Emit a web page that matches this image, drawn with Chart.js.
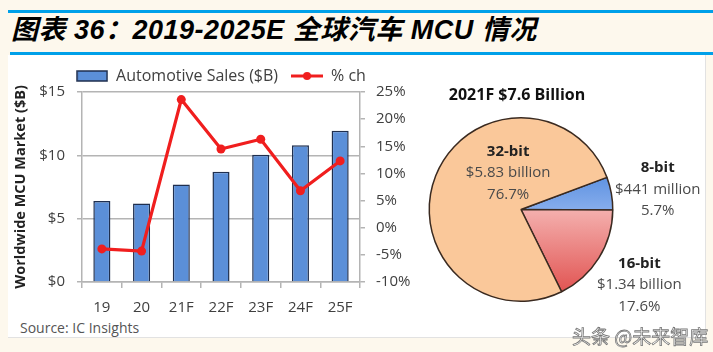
<!DOCTYPE html>
<html>
<head>
<meta charset="utf-8">
<script src="https://cdn.jsdelivr.net/npm/chart.js@4.4.0/dist/chart.umd.min.js"></script>
<style>
  body { margin: 0; width: 713px; height: 352px; overflow: hidden; position: relative; background: #fdf8ed; font-family: "Open Sans", sans-serif; }
  .bar { position: absolute; background: #00a0e9; }
  #title { position: absolute; left: 11px; top: 8px; font: italic bold 27px "Liberation Sans", "Noto Sans CJK SC", sans-serif; letter-spacing: 0.5px; color: #000; white-space: nowrap; }
  #panel { position: absolute; left: 8px; top: 55px; width: 697px; height: 282px; background: #fff; border-right: 1px solid #e2e2e2; border-bottom: 1px solid #e2e2e2; }
  canvas { position: absolute; }
  #source { position: absolute; left: 20px; top: 318px; font-size: 14px; color: #555; }
  #wm { position: absolute; left: 572px; top: 322px; font: 19px "Noto Sans CJK SC", sans-serif; color: #fff; -webkit-text-stroke: 0.8px #777; white-space: nowrap; }
</style>
</head>
<body>
<div class="bar" style="left:8px;top:10px;width:705px;height:3px"></div>
<div id="title">图表 36：2019-2025E 全球汽车 MCU 情况</div>
<div class="bar" style="left:10px;top:52px;width:703px;height:3px"></div>
<div id="panel"></div>
<canvas id="barChart" width="426" height="262" style="left:8px;top:55px"></canvas>
<canvas id="pieChart" width="295" height="282" style="left:410px;top:55px"></canvas>
<div id="source">Source: IC Insights</div>
<div id="wm">头条 @未来智库</div>

<script>
// 数据
const anos = ['19', '20', '21F', '22F', '23F', '24F', '25F'];
const vendas = [6.4, 6.2, 7.7, 8.7, 10.05, 10.8, 11.95];   // $B
const variacao = [-3.9, -4.3, 23.6, 14.5, 16.3, 6.8, 12.3]; // % ch
const ticksEsq = [0, 5, 10, 15];
const ticksDir = [-10, -5, 0, 5, 10, 15, 20, 25];

const fatias = ['8-bit', '16-bit', '32-bit'];
const fatiasValor = [0.441, 1.34, 5.83];
const fatiasTexto = [
    ['8-bit', '$441 million', '5.7%'],
    ['16-bit', '$1.34 billion', '17.6%'],
    ['32-bit', '$5.83 billion', '76.7%']
];
const pizzaTitulo = '2021F $7.6 Billion';

const fonte = '"Open Sans", sans-serif';
const cinza = '#b4b4b4';

// ícones da legenda
function iconeBarra() {
    const c = document.createElement('canvas');
    c.width = 32; c.height = 12;
    const g = c.getContext('2d');
    g.fillStyle = '#5b8fd8';
    g.fillRect(1, 1, 30, 10);
    g.strokeStyle = '#1f2f4f';
    g.lineWidth = 1.5;
    g.strokeRect(1, 1, 30, 10);
    return c;
}
function iconeLinha() {
    const c = document.createElement('canvas');
    c.width = 32; c.height = 10;
    const g = c.getContext('2d');
    g.strokeStyle = '#f01e1e';
    g.lineWidth = 3;
    g.beginPath(); g.moveTo(0, 5); g.lineTo(32, 5); g.stroke();
    g.fillStyle = '#f01e1e';
    g.beginPath(); g.arc(16, 5, 4, 0, Math.PI * 2); g.fill();
    return c;
}

const ctx = document.getElementById('barChart').getContext('2d');
new Chart(ctx, {
    data: {
        labels: anos,
        datasets: [{
            type: 'bar',
            label: 'Automotive Sales ($B)',
            data: vendas,
            backgroundColor: '#5b8fd8',
            borderColor: '#1f2f4f',
            borderWidth: 1.5,
            barPercentage: 0.43,
            categoryPercentage: 1,
            yAxisID: 'y',
            order: 1
        }, {
            type: 'line',
            label: '% ch',
            data: variacao,
            borderColor: '#f01e1e',
            backgroundColor: '#f01e1e',
            borderWidth: 3.2,
            pointRadius: 4.5,
            pointBorderWidth: 0,
            tension: 0,
            yAxisID: 'y1',
            order: 0
        }]
    },
    options: {
        responsive: false,
        animation: false,
        layout: { padding: { top: 0, right: 0, bottom: 0, left: 0 } },
        plugins: {
            tooltip: { enabled: false },
            legend: {
                display: true,
                position: 'top',
                maxHeight: 37,
                labels: {
                    usePointStyle: true,
                    pointStyleWidth: 32,
                    padding: 13,
                    color: '#404040',
                    font: { family: fonte, size: 16 },
                    generateLabels: () => [
                        { text: 'Automotive Sales ($B)', pointStyle: iconeBarra(), datasetIndex: 0, hidden: false, lineWidth: 0, fontColor: '#404040' },
                        { text: '% ch', pointStyle: iconeLinha(), datasetIndex: 1, hidden: false, lineWidth: 0, fontColor: '#404040' }
                    ]
                }
            }
        },
        scales: {
            x: {
                grid: { offset: true, drawOnChartArea: false, color: cinza, lineWidth: 1.5, tickLength: 6 },
                border: { color: cinza, width: 1.5 },
                ticks: { color: '#404040', font: { family: fonte, size: 15 }, padding: 11 },
                afterFit: s => { s.height = 35; }
            },
            y: {
                position: 'left',
                min: 0, max: 15,
                afterBuildTicks: s => { s.ticks = ticksEsq.map(v => ({ value: v })); },
                ticks: { color: '#404040', font: { family: fonte, size: 15 }, padding: 12, callback: v => '$' + v },
                grid: { color: cinza, lineWidth: 1.5, tickLength: 5 },
                border: { color: cinza, width: 1.5 },
                title: { display: true, text: 'Worldwide MCU Market ($B)', color: '#222', font: { family: fonte, size: 14.5, weight: 'bold' }, padding: { top: 4, bottom: 0 } },
                afterFit: s => { s.width = 74; }
            },
            y1: {
                position: 'right',
                min: -10, max: 25,
                afterBuildTicks: s => { s.ticks = ticksDir.map(v => ({ value: v })); },
                ticks: { color: '#404040', font: { family: fonte, size: 15 }, padding: 11, callback: v => v + '%' },
                grid: { drawOnChartArea: false, color: cinza, lineWidth: 1.5, tickLength: 5 },
                border: { color: cinza, width: 1.5 },
                afterFit: s => { s.width = 74; }
            }
        }
    }
});

// pizza
const rotulosPizza = {
    id: 'rotulosPizza',
    afterDraw(chart) {
        const g = chart.ctx;
        const arco = chart.getDatasetMeta(0).data[0];
        const cx = arco.x, cy = arco.y, r = arco.outerRadius;
        // deslocamentos relativos ao centro (em raios)
        const pos = [[1.49, -0.22], [1.29, 0.82], [-0.14, -0.40]];
        g.save();
        g.textAlign = 'center';
        g.textBaseline = 'middle';
        g.fillStyle = '#111';
        g.font = 'bold 16px ' + fonte;
        g.fillText(pizzaTitulo, cx - 4, cy - r * 1.24);
        fatiasTexto.forEach((linhas, i) => {
            const x = cx + pos[i][0] * r, y = cy + pos[i][1] * r;
            linhas.forEach((t, j) => {
                g.font = (j === 0 ? 'bold ' : '') + '15px ' + fonte;
                g.fillStyle = j === 0 ? '#222' : '#4a4a4a';
                g.fillText(t, x, y + (j - 1) * 21.5);
            });
        });
        g.restore();
    }
};

function corFatia(c) {
    const area = c.chart.chartArea;
    if (!area) return '#ccc';
    const g = c.chart.ctx;
    const cy = (area.top + area.bottom) / 2;
    const r = Math.min(area.right - area.left, area.bottom - area.top) / 2;
    if (c.dataIndex === 0) {
        const gr = g.createLinearGradient(0, cy - r * 0.4, 0, cy);
        gr.addColorStop(0, '#5a8fe0');
        gr.addColorStop(1, '#86adec');
        return gr;
    }
    if (c.dataIndex === 1) {
        const gr = g.createLinearGradient(0, cy, 0, cy + r * 0.95);
        gr.addColorStop(0, '#f4b0ae');
        gr.addColorStop(1, '#e04e4c');
        return gr;
    }
    return '#fac89a';
}

new Chart(document.getElementById('pieChart'), {
    type: 'pie',
    data: {
        labels: fatias,
        datasets: [{
            data: fatiasValor,
            backgroundColor: corFatia,
            borderColor: '#3a2a20',
            borderWidth: 1.5
        }]
    },
    options: {
        responsive: false,
        animation: false,
        rotation: 69.5,
        layout: { padding: { left: 18, right: 91, top: 62, bottom: 35 } },
        plugins: { legend: { display: false }, tooltip: { enabled: false } }
    },
    plugins: [rotulosPizza]
});
</script>
</body>
</html>
